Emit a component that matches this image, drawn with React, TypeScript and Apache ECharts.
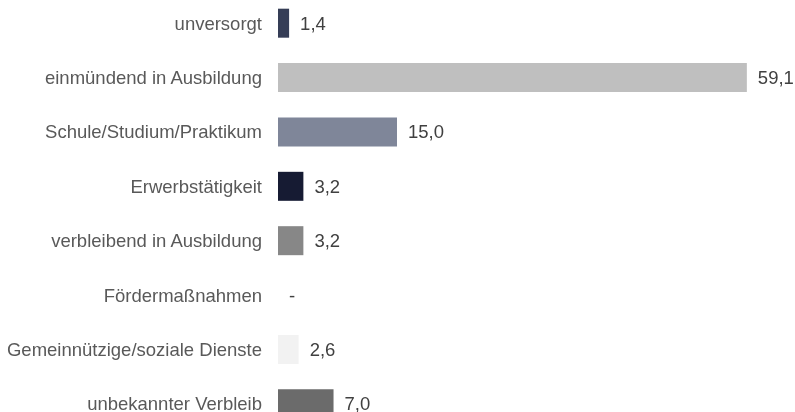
import React, { useEffect, useRef } from "react";
import * as echarts from "echarts";

const categories = [
  "unversorgt",
  "einmündend in Ausbildung",
  "Schule/Studium/Praktikum",
  "Erwerbstätigkeit",
  "verbleibend in Ausbildung",
  "Fördermaßnahmen",
  "Gemeinnützige/soziale Dienste",
  "unbekannter Verbleib",
];
const values = [1.4, 59.1, 15.0, 3.2, 3.2, 0, 2.6, 7.0];
const colors = ["#353d56", "#bfbfbf", "#7f8699", "#161b33", "#878787", "#d9d9d9", "#f2f2f2", "#6b6b6b"];

const FONT = "'Liberation Sans', Arial, sans-serif";

export default function App() {
  const ref = useRef<HTMLDivElement>(null);
  useEffect(() => {
    if (!ref.current) return;
    const chart = echarts.init(ref.current, undefined, { renderer: "svg" });
    chart.setOption({
      animation: false,
      grid: { left: 278, right: 41, top: 0, bottom: 0, containLabel: false },
      xAxis: {
        type: "value",
        min: 0,
        max: 60,
        show: false,
      },
      yAxis: {
        type: "category",
        data: categories,
        inverse: true,
        axisLine: { show: false },
        axisTick: { show: false },
        axisLabel: {
          margin: 16,
          color: "#595959",
          fontSize: 18.5,
          fontFamily: FONT,
        },
      },
      series: [
        {
          type: "bar",
          barWidth: 29,
          data: values.map((v, i) => ({ value: v, itemStyle: { color: colors[i] } })),
          label: {
            show: true,
            position: "right",
            distance: 11,
            color: "#404040",
            fontSize: 18.5,
            fontFamily: FONT,
            formatter: (p: any) => (p.value === 0 ? "-" : Number(p.value).toFixed(1).replace(".", ",")),
          },
        },
      ],
    });
    return () => chart.dispose();
  }, []);
  return (
    <div style={{ position: "fixed", left: 0, top: 0, width: 795, height: 412, overflow: "hidden" }}>
      <div ref={ref} style={{ position: "absolute", left: 0, top: -4, width: 795, height: 435 }} />
    </div>
  );
}
